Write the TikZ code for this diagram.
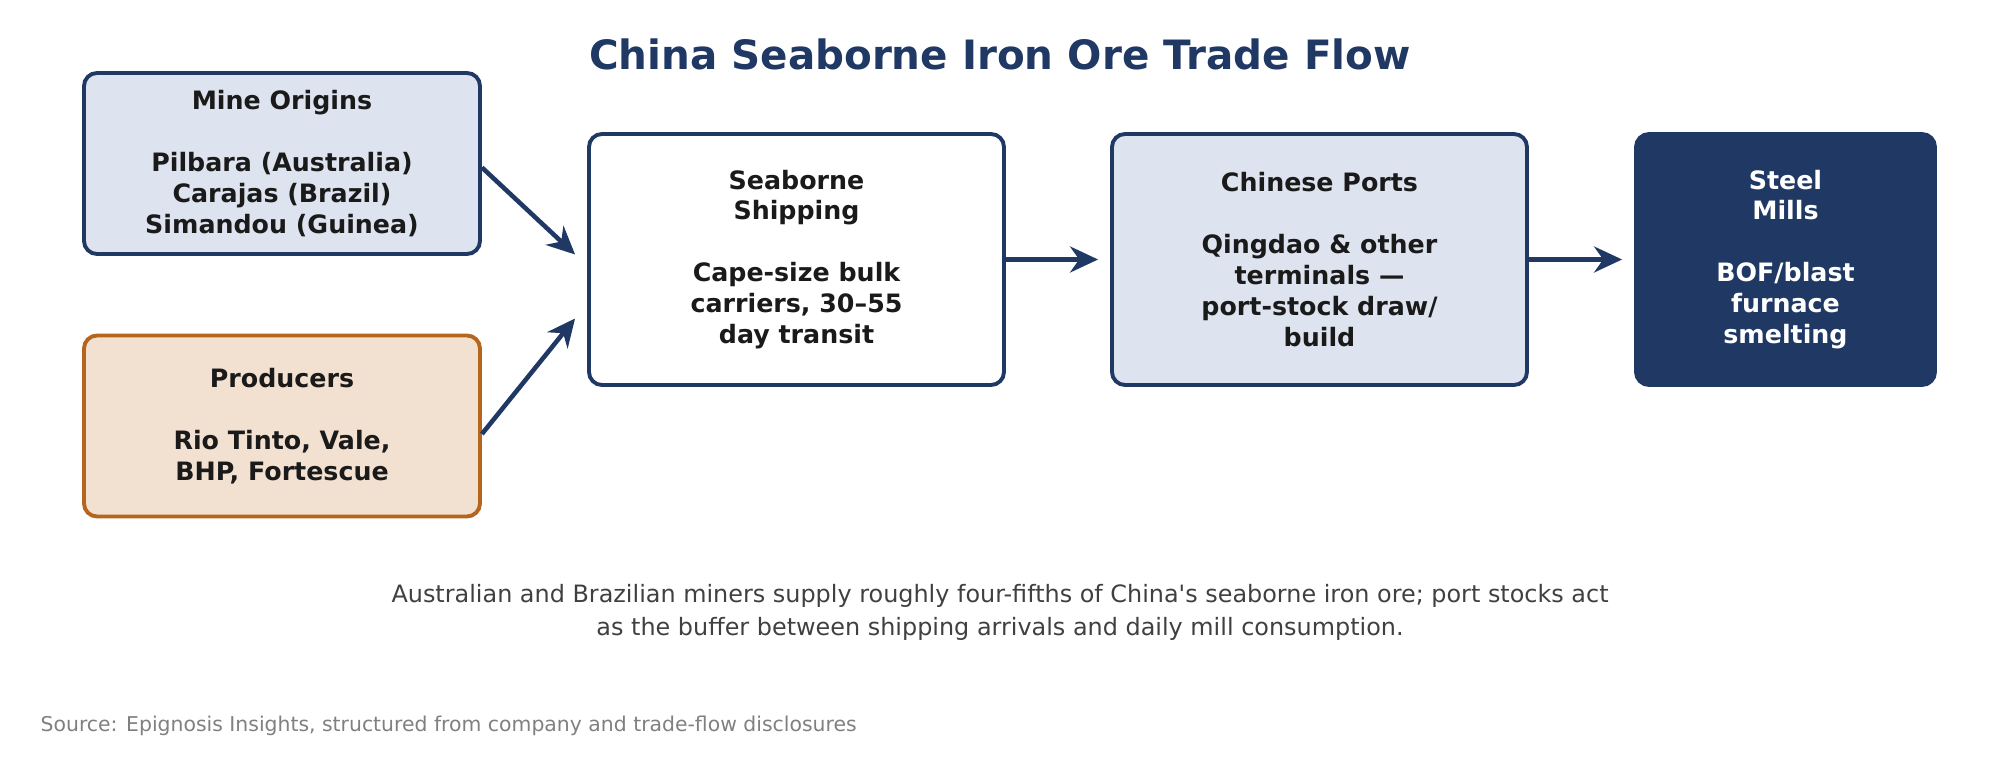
\documentclass[tikz,border=0pt]{standalone}
\usepackage{fontspec}
\setmainfont{DejaVu Sans}
\usetikzlibrary{arrows.meta}
\definecolor{navy}{HTML}{1F3864}
\definecolor{paleblue}{HTML}{DDE3EF}
\definecolor{rust}{HTML}{B5651D}
\definecolor{sand}{HTML}{F2E0D0}
\definecolor{ink}{HTML}{1A1A1A}

\begin{document}
\begin{tikzpicture}[
    box/.style={draw=navy, line width=1.1pt, rounded corners=1.3mm, align=center,
                font=\bfseries\fontsize{7.2}{8.8}\selectfont, text=ink, inner sep=0pt},
    flow/.style={-{Stealth[length=2.8mm,width=2.6mm]}, navy, line width=1.3pt}
  ]
  \useasboundingbox (0,0) rectangle (20,-7.8);

  \node[font=\bfseries\fontsize{11.5}{13}\selectfont, text=navy] (title) at (10,-0.54)
    {China Seaborne Iron Ore Trade Flow};

  % sources
  \node[box, fill=paleblue, minimum width=3.96cm, minimum height=1.81cm] (mine) at (2.82,-1.635)
    {Mine Origins\\[8.8pt]Pilbara (Australia)\\Carajas (Brazil)\\Simandou (Guinea)};
  \node[box, draw=rust, fill=sand, minimum width=3.96cm, minimum height=1.81cm] (prod) at (2.82,-4.26)
    {Producers\\[8.8pt]Rio Tinto, Vale,\\BHP, Fortescue};

  % chain
  \node[box, fill=white, minimum width=4.15cm, minimum height=2.51cm] (ship) at (7.965,-2.595)
    {Seaborne\\Shipping\\[8.8pt]Cape-size bulk\\carriers, 30--55\\day transit};
  \node[box, fill=paleblue, minimum width=4.15cm, minimum height=2.51cm] (port) at (13.195,-2.595)
    {Chinese Ports\\[8.8pt]Qingdao \& other\\terminals ---\\port-stock draw/\\build};
  \node[box, fill=navy, text=white, minimum width=2.99cm, minimum height=2.51cm] (mill) at (17.855,-2.595)
    {Steel\\Mills\\[8.8pt]BOF/blast\\furnace\\smelting};

  \draw[flow] ([yshift=-0.4mm]mine.east) -- ([xshift=-1.2mm,yshift=0.5mm]ship.west);
  \draw[flow] ([yshift=-0.8mm]prod.east) -- ([xshift=-1.2mm,yshift=-5.9mm]ship.west);
  \draw[flow] (ship.east) -- ([xshift=-1.2mm]port.west);
  \draw[flow] (port.east) -- ([xshift=-1.2mm]mill.west);

  \node[align=center, font=\fontsize{6.8}{9.4}\selectfont, text=black!75] (note) at (10,-6.125)
    {Australian and Brazilian miners supply roughly four-fifths of China\textquotesingle s seaborne iron ore; port stocks act\\
     as the buffer between shipping arrivals and daily mill consumption.};
  \node[anchor=west, inner sep=0pt, font=\fontsize{5.8}{7}\selectfont, text=black!50] (src) at (0.4,-7.26)
    {Source: Epignosis Insights, structured from company and trade-flow disclosures};
\end{tikzpicture}
\end{document}
